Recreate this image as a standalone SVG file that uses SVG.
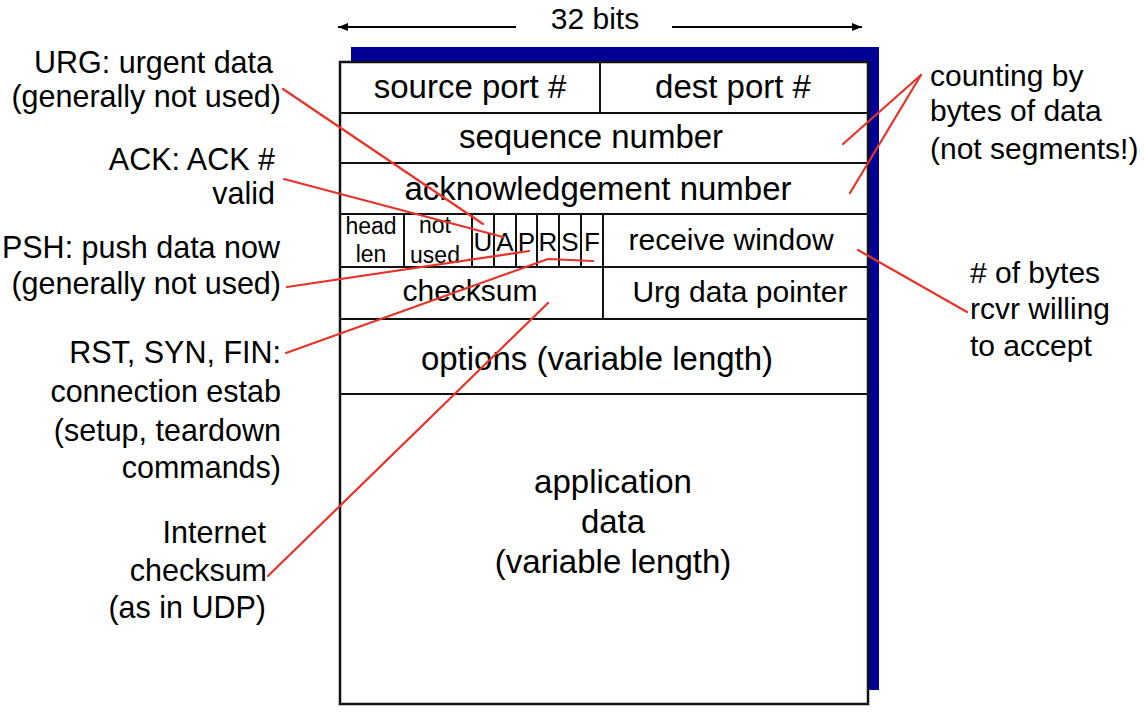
<svg xmlns="http://www.w3.org/2000/svg" width="1144" height="716" viewBox="0 0 1144 716">
<style>
text{font-family:"Liberation Sans",Arial,Helvetica,sans-serif;fill:#000}
.f{font-size:33px;text-anchor:middle}
.m{font-size:30px;text-anchor:middle}
.s{font-size:23px;text-anchor:middle}
.fl{font-size:26px;text-anchor:middle}
.lab{font-size:30.5px;text-anchor:end}
.rl{font-size:30px;text-anchor:start}
.cell{fill:none;stroke:#111;stroke-width:2}
.red{fill:none;stroke:#e63329;stroke-width:2.2;stroke-linecap:round;stroke-linejoin:round}
.arr{stroke:#000;stroke-width:2}
</style>
<defs>
<marker id="ah" viewBox="0 0 10 8" refX="10" refY="4" markerWidth="10" markerHeight="8" markerUnits="userSpaceOnUse" orient="auto">
<path d="M0,0 L10,4 L0,8 z" fill="#000"/>
</marker>
</defs>
<rect width="1144" height="716" fill="#fff"/>

<g id="width-indicator">
<text x="595" y="29" class="m">32 bits</text>
<line class="arr" x1="516" y1="27" x2="338" y2="27" marker-end="url(#ah)"/>
<line class="arr" x1="672" y1="27" x2="862" y2="27" marker-end="url(#ah)"/>
</g>

<g id="segment">
<rect id="shadow" x="351" y="47" width="528" height="643" fill="#000096"/>
<rect x="340" y="62" width="528" height="642" fill="#fff" stroke="#111" stroke-width="2.5"/>
</g>

<g id="row-ports">
<rect class="cell" x="340" y="62" width="260" height="51"/>
<rect class="cell" x="600" y="62" width="268" height="51"/>
<text class="f" x="470" y="98">source port #</text>
<text class="f" x="733" y="98">dest port #</text>
</g>
<g id="row-seq">
<rect class="cell" x="340" y="113" width="528" height="50"/>
<text class="f" x="591" y="148">sequence number</text>
</g>
<g id="row-ack">
<rect class="cell" x="340" y="163" width="528" height="51"/>
<text class="f" x="598" y="200">acknowledgement number</text>
</g>
<g id="row-flags">
<rect class="cell" x="340" y="214" width="64" height="53"/>
<text class="s" x="371" y="234">head</text>
<text class="s" x="371" y="262">len</text>
<rect class="cell" x="404" y="214" width="68" height="53"/>
<text class="s" x="435" y="233">not</text>
<text class="s" x="435" y="263">used</text>
<rect class="cell" x="472" y="214" width="22" height="53"/>
<text class="fl" x="483" y="251">U</text>
<rect class="cell" x="494" y="214" width="22" height="53"/>
<text class="fl" x="505" y="251">A</text>
<rect class="cell" x="516" y="214" width="21" height="53"/>
<text class="fl" x="526.5" y="251">P</text>
<rect class="cell" x="537" y="214" width="22" height="53"/>
<text class="fl" x="548" y="251">R</text>
<rect class="cell" x="559" y="214" width="22" height="53"/>
<text class="fl" x="570" y="251">S</text>
<rect class="cell" x="581" y="214" width="22" height="53"/>
<text class="fl" x="592" y="251">F</text>
<rect class="cell" x="603" y="214" width="265" height="53"/>
<text class="m" x="731" y="250">receive window</text>
</g>
<g id="row-checksum">
<rect class="cell" x="340" y="267" width="263" height="52"/>
<text class="m" x="470" y="301">checksum</text>
<rect class="cell" x="603" y="267" width="265" height="52"/>
<text class="m" x="740" y="302">Urg data pointer</text>
</g>
<g id="row-options">
<rect class="cell" x="340" y="319" width="528" height="75"/>
<text class="f" x="597" y="370">options (variable length)</text>
</g>
<g id="row-data">
<text class="f" x="613" y="493">application</text>
<text class="f" x="613" y="533">data</text>
<text class="f" x="613" y="573">(variable length)</text>
</g>

<g id="label-urg">
<text class="lab" x="273" y="73">URG: urgent data</text>
<text class="lab" x="281" y="107">(generally not used)</text>
</g>
<g id="label-ack">
<text class="lab" x="275" y="170">ACK: ACK #</text>
<text class="lab" x="275" y="204">valid</text>
</g>
<g id="label-psh">
<text class="lab" x="280" y="258">PSH: push data now</text>
<text class="lab" x="281" y="294">(generally not used)</text>
</g>
<g id="label-rst">
<text class="lab" x="281" y="363">RST, SYN, FIN:</text>
<text class="lab" x="281" y="402">connection estab</text>
<text class="lab" x="281" y="441">(setup, teardown</text>
<text class="lab" x="281" y="478">commands)</text>
</g>
<g id="label-checksum">
<text class="lab" x="266" y="543">Internet</text>
<text class="lab" x="267" y="581">checksum</text>
<text class="lab" x="266" y="618">(as in UDP)</text>
</g>
<g id="label-counting">
<text class="rl" x="930" y="86">counting by</text>
<text class="rl" x="930" y="121">bytes of data</text>
<text class="rl" x="930" y="159">(not segments!)</text>
</g>
<g id="label-window">
<text class="rl" x="970" y="283">&#35; of bytes</text>
<text class="rl" x="970" y="319">rcvr willing</text>
<text class="rl" x="970" y="356">to accept</text>
</g>

<g id="connectors">
<line class="red" x1="283" y1="89" x2="483" y2="224"/>
<line class="red" x1="284" y1="179" x2="503" y2="237"/>
<line class="red" x1="287" y1="287" x2="529" y2="251"/>
<polyline class="red" points="286,353 548,259 593,261"/>
<line class="red" x1="268" y1="576" x2="548" y2="303"/>
<line class="red" x1="921" y1="75" x2="843" y2="144"/>
<line class="red" x1="921" y1="75" x2="850" y2="193"/>
<line class="red" x1="858" y1="250" x2="967" y2="312"/>
</g>
</svg>
